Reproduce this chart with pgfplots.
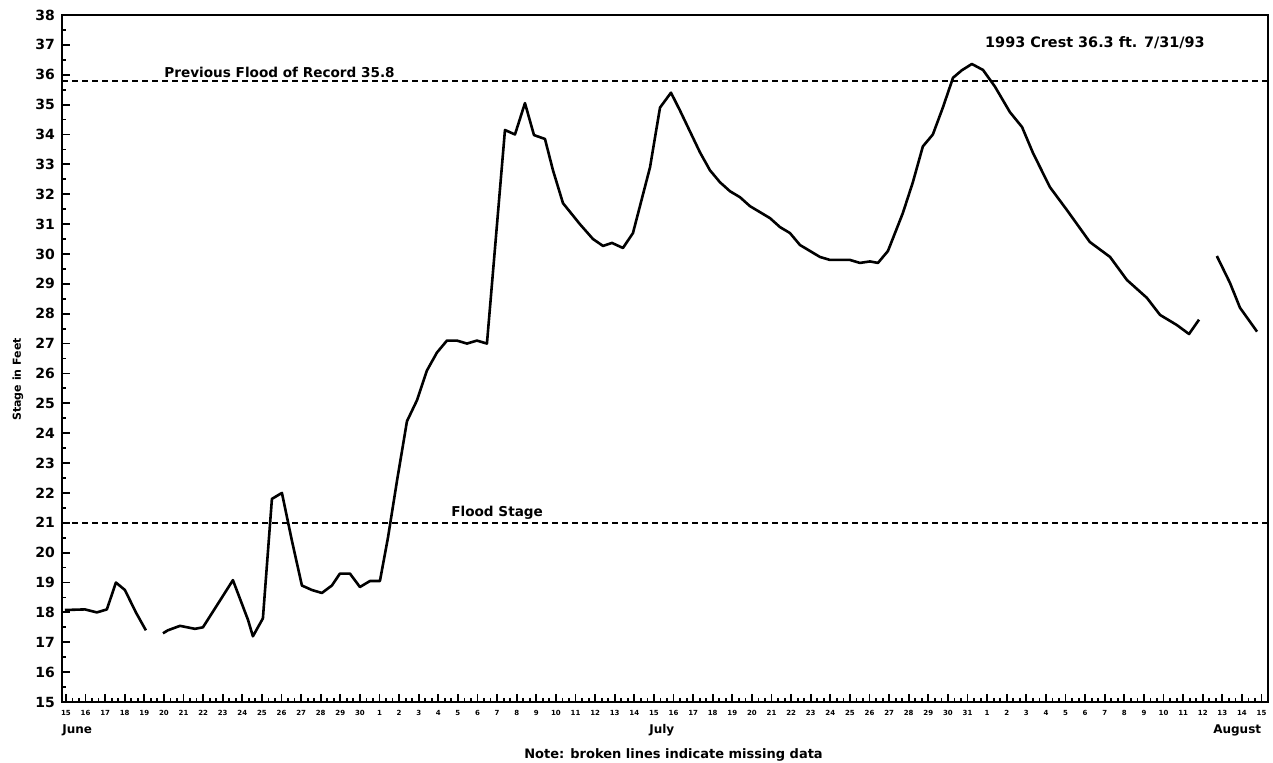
\documentclass[border=0pt]{standalone}
\usepackage{fontspec}
\setmainfont{DejaVu Sans}
\usepackage{pgfplots}
\pgfplotsset{compat=1.18}

\begin{document}
\begin{tikzpicture}
\useasboundingbox (-31pt,-30pt) rectangle (605.5pt,351pt);
\begin{axis}[
    scale only axis,
    width=603pt, height=343.5pt,
    xmin=-0.2, xmax=61.33,
    ymin=15, ymax=38,
    axis line style={line width=1.3pt},
    tick pos=left,
    tick align=inside,
    major tick length=4pt,
    minor tick length=2pt,
    tick style={line width=0.9pt, black},
    xtick={0,...,61},
    xticklabels={15,16,17,18,19,20,21,22,23,24,25,26,27,28,29,30,
      1,2,3,4,5,6,7,8,9,10,11,12,13,14,15,16,17,18,19,20,21,22,23,24,25,26,27,28,29,30,31,
      1,2,3,4,5,6,7,8,9,10,11,12,13,14,15},
    minor x tick num=2,
    ytick={15,...,38},
    minor y tick num=1,
    /pgf/number format/assume math mode=true,
    xticklabel style={font=\bfseries\fontsize{3.5}{4}\selectfont, inner sep=1pt, yshift=-3pt},
    yticklabel style={font=\bfseries\fontsize{7}{8}\selectfont},
    clip=false,
]
% flood levels
\addplot[black, line width=0.9pt, dash pattern=on 3pt off 2pt, forget plot]
  coordinates {(-0.2,35.8) (61.33,35.8)};
\addplot[black, line width=0.9pt, dash pattern=on 3pt off 2pt, forget plot]
  coordinates {(-0.2,21) (61.33,21)};

% stage, three pieces (gaps = missing data)
\addplot[black, line width=1.3pt, line join=round] coordinates {
  (-0.05,18.08) (0.97,18.1) (1.58,18.0) (2.09,18.1) (2.55,19.0)
  (3.01,18.75) (3.57,18.0) (4.08,17.4)
};
\addplot[black, line width=1.3pt, line join=round] coordinates {
  (4.95,17.3) (5.2,17.4) (5.82,17.55) (6.58,17.45) (6.99,17.5)
  (7.96,18.5) (8.52,19.08) (9.29,17.75) (9.54,17.2) (10.05,17.8)
  (10.51,21.8) (11.02,22.0) (11.53,20.4) (12.04,18.9) (12.55,18.75)
  (13.06,18.65) (13.57,18.9) (13.98,19.3) (14.49,19.3) (15.0,18.85)
  (15.51,19.05) (16.02,19.05) (16.43,20.5) (16.89,22.4) (17.4,24.4)
  (17.91,25.1) (18.42,26.1) (18.93,26.7) (19.44,27.1) (19.95,27.1)
  (20.46,27.0) (20.97,27.1) (21.48,27.0) (22.4,34.15) (22.91,34.0)
  (23.42,35.05) (23.88,33.98) (24.44,33.85) (24.85,32.8) (25.36,31.7)
  (26.22,31.0) (26.89,30.5) (27.4,30.27) (27.86,30.37) (28.42,30.2)
  (28.93,30.7) (29.8,32.9) (30.31,34.9) (30.87,35.4) (31.33,34.8)
  (31.84,34.1) (32.35,33.4) (32.86,32.8) (33.37,32.4) (33.88,32.1)
  (34.39,31.9) (34.9,31.6) (35.41,31.4) (35.92,31.2) (36.43,30.9)
  (36.94,30.7) (37.45,30.3) (37.96,30.1) (38.47,29.9) (38.98,29.8)
  (39.49,29.8) (40.0,29.8) (40.51,29.7) (41.02,29.75) (41.43,29.7)
  (41.94,30.1) (42.7,31.37) (43.21,32.4) (43.72,33.6) (44.23,34.0)
  (44.74,34.9) (45.26,35.9) (45.71,36.15) (46.22,36.36) (46.79,36.16)
  (47.4,35.6) (48.16,34.75) (48.78,34.25) (49.34,33.38) (50.2,32.24)
  (51.07,31.47) (52.24,30.4) (53.27,29.9) (54.13,29.13) (55.15,28.53)
  (55.82,27.96) (56.68,27.62) (57.3,27.32) (57.81,27.8)
};
\addplot[black, line width=1.3pt, line join=round] coordinates {
  (58.72,29.93) (59.39,29.03) (59.9,28.2) (60.77,27.4)
};

% annotations
\node[font=\bfseries\fontsize{6.8}{7}\selectfont, anchor=south, inner sep=1.5pt]
  at (axis cs:10.9,35.8) {Previous Flood of Record 35.8};
\node[font=\bfseries\fontsize{6.8}{7}\selectfont, anchor=south, inner sep=1.5pt]
  at (axis cs:22.0,21) {Flood Stage};
\node[font=\bfseries\fontsize{7.2}{8}\selectfont]
  at (axis cs:52.5,37.06) {1993 Crest 36.3 ft. 7/31/93};

% month names, axis title, note
\node[font=\bfseries\fontsize{6}{7}\selectfont, anchor=west, inner sep=0pt]
  at ([yshift=-14pt]axis cs:-0.2,15) {June};
\node[font=\bfseries\fontsize{6}{7}\selectfont, inner sep=0pt]
  at ([yshift=-14pt]axis cs:30.4,15) {July};
\node[font=\bfseries\fontsize{6}{7}\selectfont, anchor=east, inner sep=0pt]
  at ([yshift=-14pt]axis cs:61.0,15) {August};
\node[font=\bfseries\fontsize{6.5}{7}\selectfont, inner sep=0pt]
  at ([yshift=-26.5pt]axis cs:31.0,15) {Note: broken lines indicate missing data};
\node[font=\bfseries\fontsize{5.5}{6}\selectfont, rotate=90, inner sep=0pt]
  at ([xshift=-22pt]axis cs:-0.2,25.8) {Stage in Feet};
\end{axis}
\end{tikzpicture}
\end{document}
